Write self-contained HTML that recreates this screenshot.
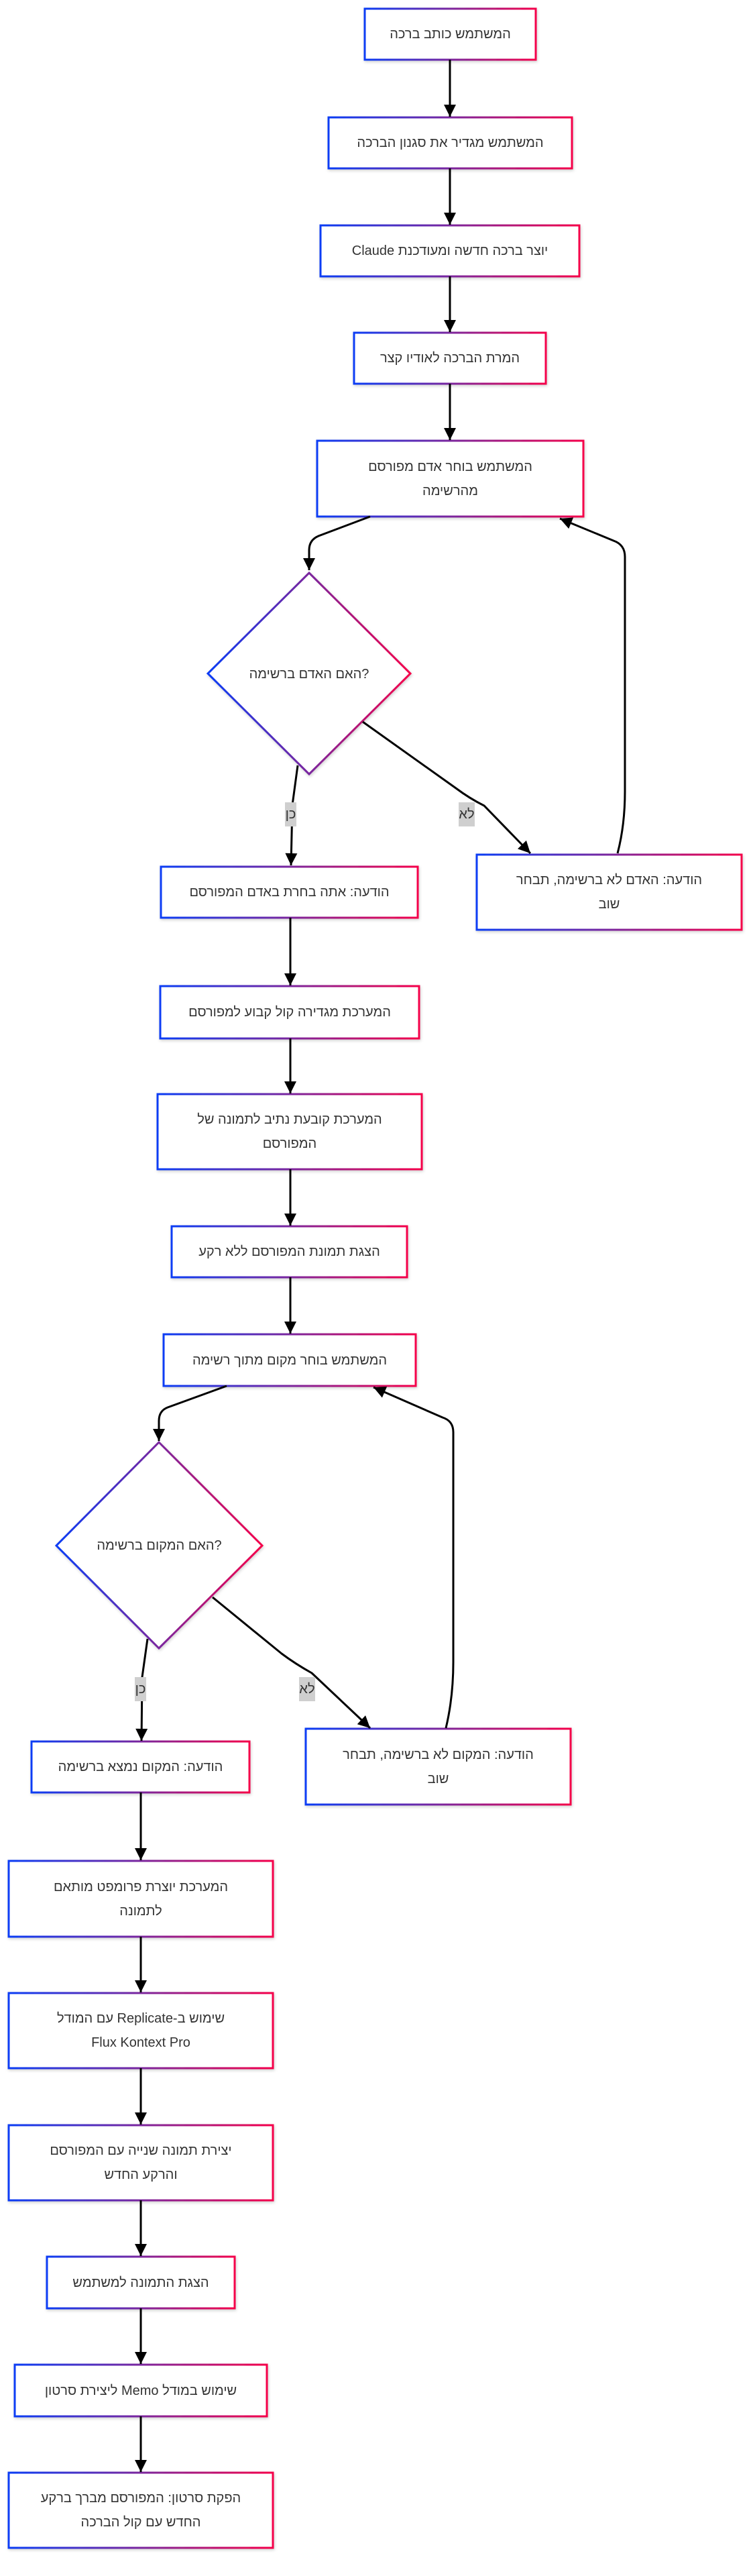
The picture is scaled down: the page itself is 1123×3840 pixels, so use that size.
<!DOCTYPE html>
<html><head><meta charset="utf-8"><style>
html,body{margin:0;padding:0;background:#fff;}
body{width:1123px;height:3840px;position:relative;overflow:hidden;font-family:"Liberation Sans","DejaVu Sans",sans-serif;}
.t{position:absolute;display:flex;align-items:center;justify-content:center;text-align:center;color:#333;font-size:20px;line-height:36px;direction:ltr;}
.l{position:absolute;background:#cfcfcf;color:#333;font-size:20px;line-height:36px;height:36px;text-align:center;}
.ib{display:inline-block;direction:rtl;}
svg{position:absolute;left:0;top:0;}
</style></head><body>
<svg width="1123" height="3840" viewBox="0 0 1123 3840">
<defs>
<linearGradient id="g" x1="0" y1="0" x2="1" y2="0"><stop offset="0" stop-color="#0a3cf5"/><stop offset="0.5" stop-color="#7a269e"/><stop offset="1" stop-color="#f5004a"/></linearGradient>
<filter id="sh" x="-5%" y="-5%" width="110%" height="115%"><feDropShadow dx="1" dy="2" stdDeviation="2" flood-color="#000" flood-opacity="0.18"/></filter>
<marker id="a" viewBox="0 0 10 10" refX="10" refY="5" markerUnits="userSpaceOnUse" markerWidth="21" markerHeight="18" orient="auto"><path d="M0,0 L10,5 L0,10 z" fill="#000"/></marker>
</defs>
<g fill="#fff" stroke="url(#g)" stroke-width="3" filter="url(#sh)">
<rect x="544" y="13" width="255" height="76"/>
<rect x="490" y="175" width="363" height="76"/>
<rect x="478" y="336" width="386" height="76"/>
<rect x="528" y="496" width="286" height="76"/>
<rect x="473" y="657" width="397" height="113"/>
<polygon points="461,854 612,1004 461,1154 310,1004"/>
<rect x="240" y="1292" width="383" height="76"/>
<rect x="711" y="1274" width="395" height="112"/>
<rect x="239" y="1470" width="386" height="78"/>
<rect x="235" y="1631" width="394" height="112"/>
<rect x="256" y="1828" width="351" height="76"/>
<rect x="244" y="1989" width="376" height="77"/>
<polygon points="237,2150 391,2304 237,2457 84,2304"/>
<rect x="47" y="2596" width="325" height="76"/>
<rect x="456" y="2577" width="395" height="113"/>
<rect x="13" y="2774" width="394" height="113"/>
<rect x="13" y="2971" width="394" height="112"/>
<rect x="13" y="3168" width="394" height="112"/>
<rect x="70" y="3364" width="280" height="77"/>
<rect x="22" y="3525" width="376" height="77"/>
<rect x="13" y="3686" width="394" height="112"/>
</g>
<g fill="none" stroke="#000" stroke-width="3" marker-end="url(#a)">
<path d="M671,89 L671,174"/>
<path d="M671,251 L671,335"/>
<path d="M671,412 L671,495"/>
<path d="M671,572 L671,656"/>
<path d="M552,770 L475,799 Q461,805 461,820 L461,850"/>
<path d="M444,1141 L436,1200 L434,1290"/>
<path d="M541,1076 L680,1175 Q700,1190 722,1201 L791,1272"/>
<path d="M921,1272 Q932,1230 932,1180 L932,830 Q932,812 915,806 L835,773"/>
<path d="M433,1368 L433,1469"/>
<path d="M433,1548 L433,1630"/>
<path d="M433,1743 L433,1827"/>
<path d="M433,1904 L433,1988"/>
<path d="M338,2066 L250,2098 Q237,2103 237,2118 L237,2148"/>
<path d="M220,2443 L212,2500 L211,2595"/>
<path d="M317,2381 L420,2465 Q440,2480 465,2494 L552,2576"/>
<path d="M665,2576 Q676,2530 676,2478 L676,2135 Q676,2118 660,2113 L557,2068"/>
<path d="M210,2672 L210,2773"/>
<path d="M210,2887 L210,2970"/>
<path d="M210,3083 L210,3167"/>
<path d="M210,3280 L210,3363"/>
<path d="M210,3441 L210,3524"/>
<path d="M210,3602 L210,3685"/>
</g>
</svg>
<div class="l" style="left:425px;top:1196px;width:17px;">כן</div>
<div class="l" style="left:684px;top:1196px;width:24px;">לא</div>
<div class="l" style="left:201px;top:2500px;width:17px;">כן</div>
<div class="l" style="left:446px;top:2500px;width:24px;">לא</div>

<div class="t" style="left:544px;top:13px;width:255px;height:76px;">המשתמש כותב ברכה</div>
<div class="t" style="left:490px;top:175px;width:363px;height:76px;">המשתמש מגדיר את סגנון הברכה</div>
<div class="t" style="left:478px;top:336px;width:386px;height:76px;">Claude יוצר ברכה חדשה ומעודכנת</div>
<div class="t" style="left:528px;top:496px;width:286px;height:76px;">המרת הברכה לאודיו קצר</div>
<div class="t" style="left:473px;top:657px;width:397px;height:113px;">המשתמש בוחר אדם מפורסם<br>מהרשימה</div>
<div class="t" style="left:310px;top:985px;width:302px;height:40px;">האם האדם ברשימה?</div>
<div class="t" style="left:240px;top:1292px;width:383px;height:76px;">הודעה: אתה בחרת באדם המפורסם</div>
<div class="t" style="left:711px;top:1274px;width:395px;height:112px;">הודעה: האדם לא ברשימה, תבחר<br>שוב</div>
<div class="t" style="left:239px;top:1470px;width:386px;height:78px;">המערכת מגדירה קול קבוע למפורסם</div>
<div class="t" style="left:235px;top:1631px;width:394px;height:112px;">המערכת קובעת נתיב לתמונה של<br>המפורסם</div>
<div class="t" style="left:256px;top:1828px;width:351px;height:76px;">הצגת תמונת המפורסם ללא רקע</div>
<div class="t" style="left:244px;top:1989px;width:376px;height:77px;">המשתמש בוחר מקום מתוך רשימה</div>
<div class="t" style="left:84px;top:2284px;width:307px;height:40px;">האם המקום ברשימה?</div>
<div class="t" style="left:47px;top:2596px;width:325px;height:76px;">הודעה: המקום נמצא ברשימה</div>
<div class="t" style="left:456px;top:2577px;width:395px;height:113px;">הודעה: המקום לא ברשימה, תבחר<br>שוב</div>
<div class="t" style="left:13px;top:2774px;width:394px;height:113px;">המערכת יוצרת פרומפט מותאם<br>לתמונה</div>
<div class="t" style="left:13px;top:2971px;width:394px;height:112px;"><div><span class="ib">עם המודל</span> Replicate-<span class="ib">שימוש ב</span><br>Flux Kontext Pro</div></div>
<div class="t" style="left:13px;top:3168px;width:394px;height:112px;">יצירת תמונה שנייה עם המפורסם<br>והרקע החדש</div>
<div class="t" style="left:70px;top:3364px;width:280px;height:77px;">הצגת התמונה למשתמש</div>
<div class="t" style="left:22px;top:3525px;width:376px;height:77px;"><div><span class="ib">ליצירת סרטון</span> Memo <span class="ib">שימוש במודל</span></div></div>
<div class="t" style="left:13px;top:3686px;width:394px;height:112px;">הפקת סרטון: המפורסם מברך ברקע<br>החדש עם קול הברכה</div>
</body></html>
